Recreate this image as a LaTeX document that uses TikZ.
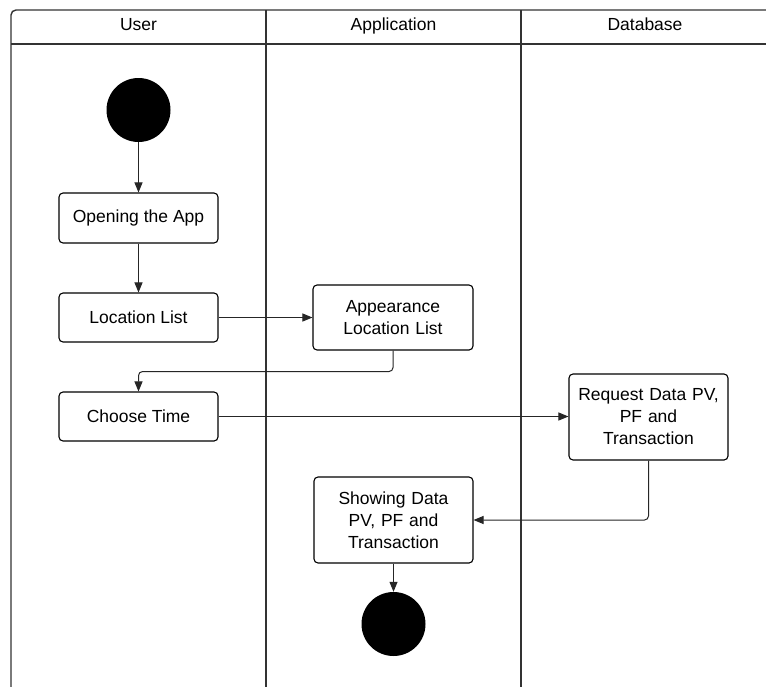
\documentclass[tikz,border=0pt]{standalone}
\usepackage{fontspec}
\setmainfont{Liberation Sans}
\usetikzlibrary{arrows.meta,calc}
\begin{document}
\begin{tikzpicture}[x=1pt,y=-1pt,
  lane/.style={draw=black!80,line width=1.4pt},
  actbox/.style={draw=black,line width=1.1pt,rounded corners=4pt,inner sep=0pt,align=center,
    font=\fontsize{17.5}{22}\selectfont},
  dot/.style={circle,fill=black,inner sep=0pt,minimum size=64pt},
  arr/.style={draw=black!85,line width=1pt,-{Triangle[length=10pt,width=8pt]}},
  hdr/.style={font=\fontsize{17.5}{22}\selectfont,inner sep=0pt,text height=12.5pt,text depth=3.5pt}]
\useasboundingbox (0,0) rectangle (766,686);
\fill[white] (0,0) rectangle (766,686);
% swimlane frame
\draw[lane,rounded corners=5pt] (770,10) -- (11,10) -- (11,690);
\draw[lane] (11,44) -- (770,44);
\draw[lane] (266,10) -- (266,690);
\draw[lane] (521,10) -- (521,690);
\node[hdr] (hUser) at (138.5,26) {User};
\node[hdr] (hApp) at (393.5,26) {Application};
\node[hdr] (hDb) at (645,26) {Database};
% nodes
\node[dot,minimum size=64pt] (start) at (138.5,110) {};
\node[actbox,minimum width=159pt,minimum height=50pt] (open) at (138.5,218) {Opening the App};
\node[actbox,minimum width=159pt,minimum height=49pt] (loc) at (138.5,317.5) {Location List};
\node[actbox,minimum width=160pt,minimum height=65pt,text width=150pt] (app) at (393,317.5) {Appearance\\Location List};
\node[actbox,minimum width=159pt,minimum height=49pt] (choose) at (138.5,416.5) {Choose Time};
\node[actbox,minimum width=159pt,minimum height=86pt,text width=155pt] (req) at (648.5,417) {Request Data PV,\\PF and\\Transaction};
\node[actbox,minimum width=159pt,minimum height=86pt,text width=150pt] (show) at (393.5,520) {Showing Data\\PV, PF and\\Transaction};
\node[dot,minimum size=64pt] (end) at (393.5,624) {};
% connectors
\draw[arr] (start) -- (open);
\draw[arr] (open) -- (loc);
\draw[arr] (loc.east) -- (app.west);
\draw[arr,rounded corners=4pt] (app.south) -- ++(0,21) -| (choose.north);
\draw[arr] (choose.east) -- (choose.east -| req.west);
\draw[arr,rounded corners=4pt] (req.south) |- (show.east);
\draw[arr] (show) -- (end);
\end{tikzpicture}
\end{document}
